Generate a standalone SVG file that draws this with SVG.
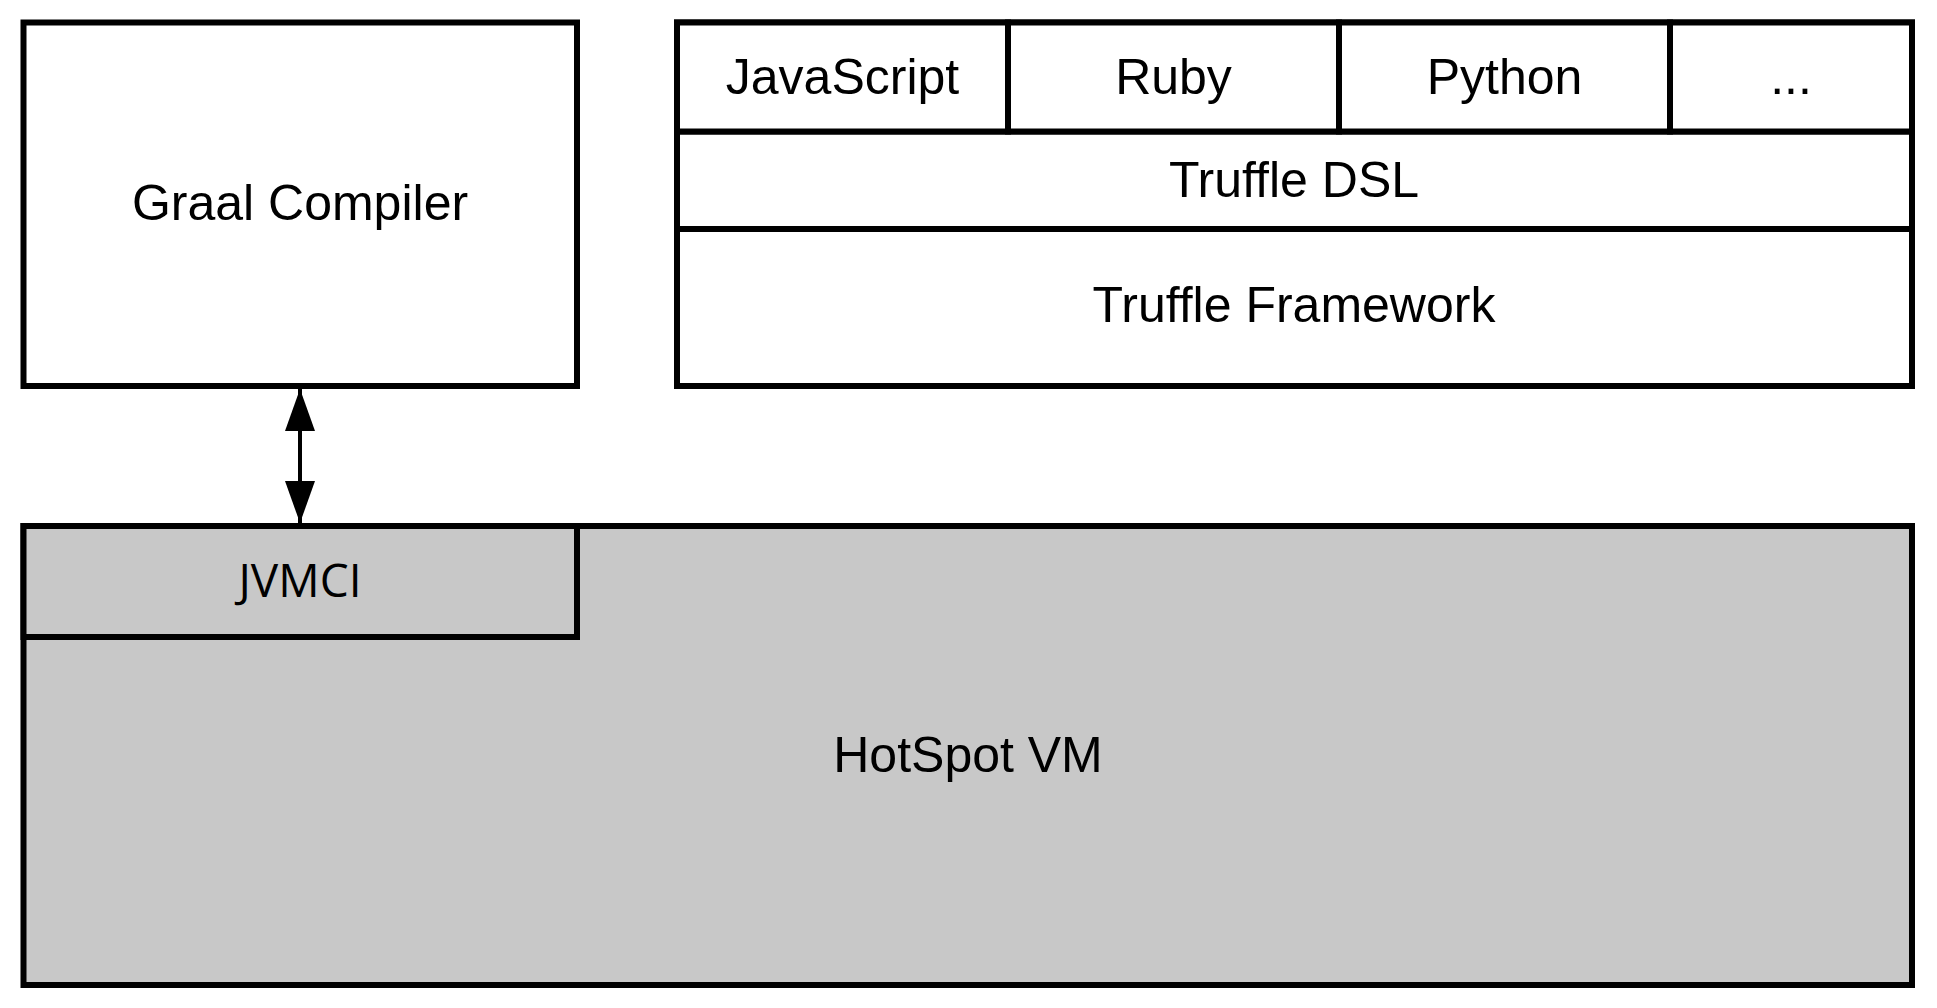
<svg xmlns="http://www.w3.org/2000/svg" width="1937" height="1008" viewBox="0 0 1937 1008">
<style>
.box{fill:#ffffff;stroke:#000;stroke-width:6}
.gray{fill:#c8c8c8;stroke:#000;stroke-width:6}
.t{font-family:"Liberation Sans",Arial,sans-serif;font-size:50px;fill:#000;text-anchor:middle;font-variant-ligatures:none}
.j{font-family:"Open Sans","DejaVu Sans",sans-serif;font-size:46px;fill:#000;text-anchor:middle}
.conn{stroke:#000;stroke-width:4;fill:none}
</style>
<defs>
<marker id="ah" markerUnits="userSpaceOnUse" markerWidth="42" markerHeight="30" refX="42" refY="15" viewBox="0 0 42 30" orient="auto-start-reverse">
<path d="M0,0 L42,15 L0,30 Z" fill="#000"/>
</marker>
</defs>
<rect width="1937" height="1008" fill="#fff"/>
<g id="hotspot">
<rect class="gray" x="23.5" y="526" width="1888.5" height="459"/>
<text class="t" x="968" y="772">HotSpot VM</text>
</g>
<g id="jvmci">
<rect class="gray" x="23.5" y="526" width="553.5" height="111"/>
<text class="j" x="300" y="597">JVMCI</text>
</g>
<g id="graal">
<rect class="box" x="23.5" y="22.5" width="553.5" height="363.5"/>
<text class="t" x="300" y="220">Graal Compiler</text>
</g>
<g id="truffle-framework">
<rect class="box" x="677" y="22.5" width="1235" height="363.5"/>
<text class="t" x="1294" y="322">Truffle Framework</text>
</g>
<g id="truffle-dsl">
<rect class="box" x="677" y="131.5" width="1235" height="97.5"/>
<text class="t" x="1294" y="197">Truffle DSL</text>
</g>
<g id="javascript">
<rect class="box" x="677" y="22.5" width="331" height="109"/>
<text class="t" x="842.5" y="94">JavaScript</text>
</g>
<g id="ruby">
<rect class="box" x="1008" y="22.5" width="331" height="109"/>
<text class="t" x="1173.5" y="94">Ruby</text>
</g>
<g id="python">
<rect class="box" x="1339" y="22.5" width="331" height="109"/>
<text class="t" x="1504.5" y="94">Python</text>
</g>
<g id="more">
<rect class="box" x="1670" y="22.5" width="242" height="109"/>
<text class="t" x="1791" y="94">...</text>
</g>
<g id="connectors">
<line class="conn" x1="300" y1="389" x2="300" y2="523" marker-start="url(#ah)" marker-end="url(#ah)"/>
</g>
</svg>
